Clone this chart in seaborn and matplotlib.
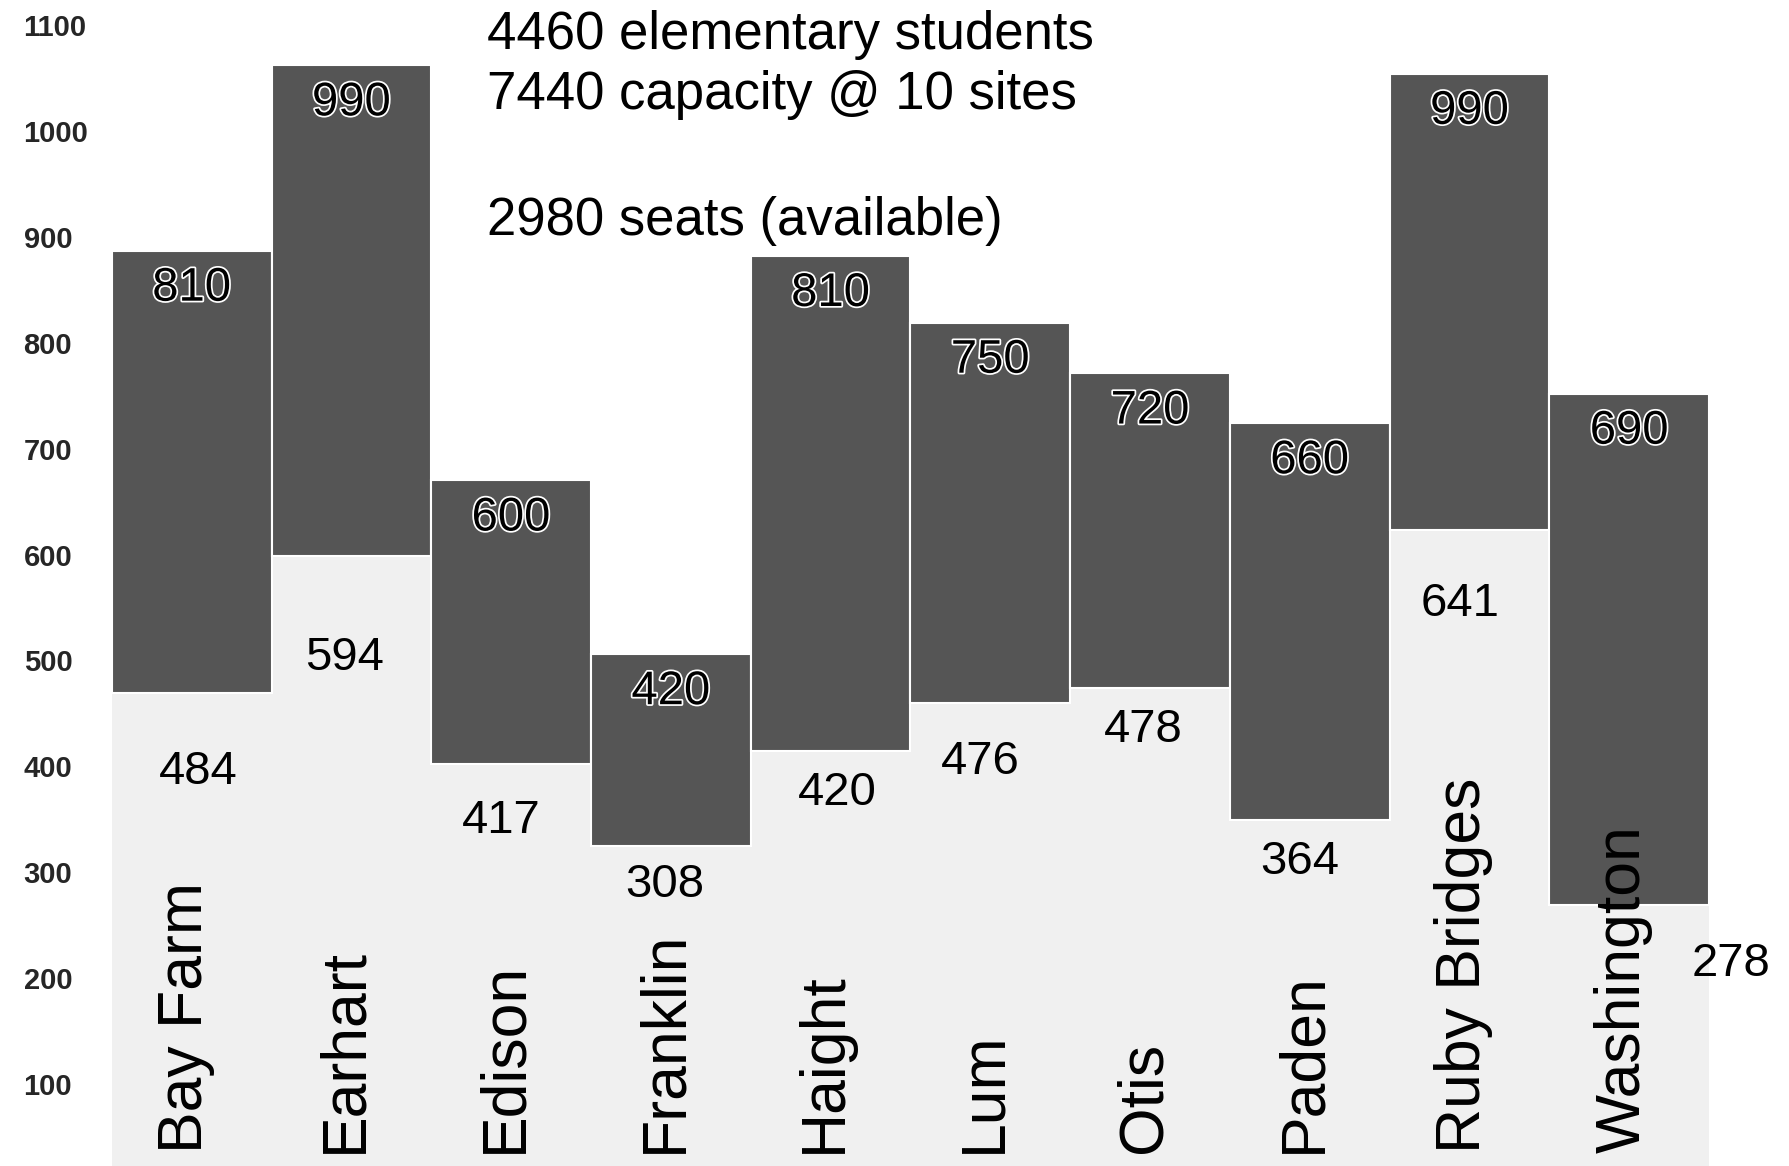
import numpy as np
import pandas as pd
import seaborn as sns
import matplotlib.pyplot as plt
import matplotlib.patheffects as pe

schools = ["Bay Farm", "Earhart", "Edison", "Franklin", "Haight",
           "Lum", "Otis", "Paden", "Ruby Bridges", "Washington"]
capacity = [810, 990, 600, 420, 810, 750, 720, 660, 990, 690]
enrollment = [484, 594, 417, 308, 420, 476, 478, 364, 641, 278]
# extensao das barras escuras como desenhadas no slide
bar_low = [469, 599, 402, 325, 414, 460, 474, 349, 623, 269]
bar_high = [887, 1062, 670, 506, 882, 819, 771, 724, 1054, 752]
yticks = [100, 200, 300, 400, 500, 600, 700, 800, 900, 1000, 1100]
header = ["4460 elementary students", "7440 capacity @ 10 sites", "2980 seats (available)"]

# posicao dos rotulos de matricula (deslocamento em x, altura em y)
enr_dx = [0.04, -0.04, -0.06, -0.04, 0.04, -0.06, -0.04, -0.06, -0.06, 0.64]
enr_y = [395, 502, 348, 288, 375, 404, 434, 310, 553, 213]

df = pd.DataFrame({
    "school": schools,
    "low": bar_low,
    "span": np.subtract(bar_high, bar_low),
})

sns.set_style("white")
plt.rcParams["font.family"] = ["Liberation Sans", "DejaVu Sans"]

fig = plt.figure(figsize=(17.89, 11.66), dpi=100)
ax = fig.add_axes([0, 0, 1, 1])

# parte de baixo clara (matricula) e parte de cima escura
sns.barplot(data=df, x="school", y="low", color="#f0f0f0", saturation=1,
            width=1.0, errorbar=None, linewidth=0, ax=ax)
sns.barplot(data=df, x="school", y="span", bottom=df["low"].values,
            color="#555555", saturation=1, width=1.0, errorbar=None,
            edgecolor="white", linewidth=1.5, ax=ax)

ax.set_xlim(-1.2, 10.0)
ax.set_ylim(22.6, 1123.6)

halo = [pe.withStroke(linewidth=2.5, foreground="white")]
for i, name in enumerate(schools):
    ax.text(i, bar_high[i] - 36, str(capacity[i]), ha="center", va="center",
            fontsize=34, color="black", path_effects=halo)
    ax.text(i + enr_dx[i], enr_y[i], str(enrollment[i]), ha="center",
            va="center", fontsize=34, color="black")
    ax.text(i - 0.04, 35, name, rotation=90, ha="center", va="bottom",
            fontsize=45, color="black")

baselines = [49, 109.5, 235]
for line, yb in zip(header, baselines):
    fig.text(487 / 1789, 1 - yb / 1166, line, ha="left", va="baseline",
             fontsize=38, color="black")

ax.set_xticks([])
ax.set_yticks(yticks)
ax.set_yticklabels([str(t) for t in yticks])
ax.tick_params(axis="y", length=0, pad=-17, labelsize=21)
for lbl in ax.get_yticklabels():
    lbl.set_horizontalalignment("left")
    lbl.set_fontweight("bold")
ax.set_xlabel("")
ax.set_ylabel("")
sns.despine(ax=ax, left=True, bottom=True)

fig.savefig("out.png", dpi=100)
